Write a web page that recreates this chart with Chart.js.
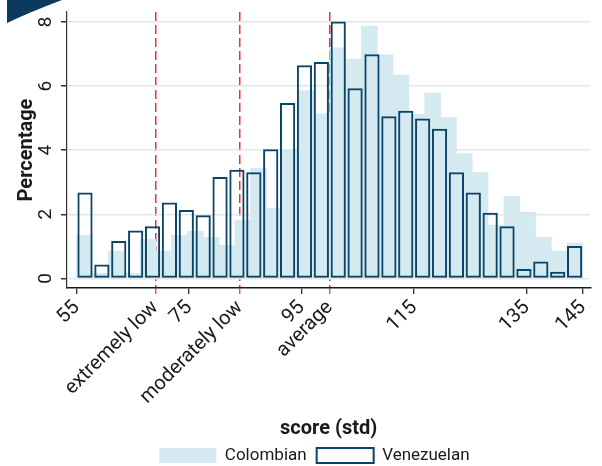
<!DOCTYPE html>
<html>
<head>
<meta charset="utf-8">
<script src="https://cdn.jsdelivr.net/npm/chart.js"></script>
<style>
  html, body { margin: 0; padding: 0; background: #fff; }
  #wrap { width: 602px; height: 466px; position: relative; }
</style>
</head>
<body>
<div id="wrap"><canvas id="chartScores"></canvas></div>
<script>
// Histogram range: both groups binned from 55 to 145
const binStart = 55;
const binEnd = 145;

// Percentage per bin (Venezuelan: 30 bins, Colombian: 32 bins)
const venezuelanPct = [2.68, 0.43, 1.17, 1.49, 1.63, 2.37, 2.13, 1.97, 3.16, 3.39,
    3.31, 4.03, 5.47, 6.65, 6.75, 8.01, 5.93, 6.99, 5.06, 5.23,
    4.99, 4.67, 3.31, 2.68, 2.05, 1.63, 0.29, 0.53, 0.21, 1.01];
const colombianPct = [1.34, 0.16, 0.85, 0.16, 1.22, 0.85, 1.34, 1.47, 1.28, 1.03,
    1.82, 3.43, 2.18, 4.02, 5.86, 5.13, 7.19, 6.84, 7.87, 6.97,
    6.34, 5.12, 5.79, 5.02, 3.89, 3.30, 1.66, 2.56, 2.07, 1.28, 0.85, 1.10];

// Cut-off lines and their axis labels
const cutoffs = [69, 84, 100];
const cutoffLabels = ['extremely low', 'moderately low', 'average'];

const xTicks = [55, 75, 95, 115, 135, 145];
const yTicks = [0, 2, 4, 6, 8];

const navy = '#0a4468';
const lightBlue = '#d4e9f0';
const cutRed = '#e5343a';
const font = 'Roboto, "DejaVu Sans", sans-serif';

// turn a list of bin values into {x: bin centre, y: value}
function toBins(values) {
    const w = (binEnd - binStart) / values.length;
    return values.map((v, i) => ({ x: binStart + w * (i + 0.5), y: v }));
}

// dark corner decoration in the top-left
const cornerPlugin = {
    id: 'corner',
    beforeDraw(chart) {
        const c = chart.ctx;
        c.save();
        c.fillStyle = '#0b3a5c';
        c.beginPath();
        c.moveTo(7, 0);
        c.lineTo(7, 23);
        c.quadraticCurveTo(30, 12, 62, 0);
        c.closePath();
        c.fill();
        c.restore();
    }
};

const allXTicks = xTicks.concat(cutoffs).sort((a, b) => a - b);

new Chart(document.getElementById('chartScores'), {
    type: 'bar',
    data: {
        datasets: [{
            label: 'Colombian',
            data: toBins(colombianPct),
            xAxisID: 'xCol',
            backgroundColor: lightBlue,
            borderWidth: 0,
            grouped: false,
            barPercentage: 1,
            categoryPercentage: 1,
            order: 2
        }, {
            label: 'Venezuelan',
            data: toBins(venezuelanPct),
            xAxisID: 'x',
            backgroundColor: 'rgba(255,255,255,0)',
            borderColor: navy,
            borderWidth: 2,
            borderSkipped: false,
            grouped: false,
            barPercentage: 0.9,
            categoryPercentage: 1,
            order: 1
        }]
    },
    options: {
        responsive: true,
        maintainAspectRatio: false,
        animation: false,
        layout: { padding: { left: 28, right: 1, top: 12, bottom: -8 } },
        plugins: {
            tooltip: { enabled: false },
            legend: {
                position: 'bottom',
                labels: {
                    boxWidth: 57,
                    boxHeight: 15,
                    padding: 10,
                    color: '#1a1a1a',
                    font: { family: font, size: 17 },
                    sort: (a, b) => a.datasetIndex - b.datasetIndex
                }
            }
        },
        scales: {
            x: {
                type: 'linear',
                position: 'bottom',
                min: 53.3,
                max: 146.3,
                offset: false,
                z: 1,
                afterBuildTicks: s => { s.ticks = allXTicks.map(v => ({ value: v })); },
                afterFit: s => { s.height = 149; },
                ticks: {
                    minRotation: 45,
                    maxRotation: 45,
                    padding: 2,
                    color: '#1a1a1a',
                    font: { family: font, size: 20 },
                    callback: v => cutoffs.includes(v) ? cutoffLabels[cutoffs.indexOf(v)] : String(v)
                },
                grid: {
                    offset: false,
                    color: c => (c.tick && cutoffs.includes(c.tick.value)) ? cutRed : 'rgba(0,0,0,0)',
                    lineWidth: 1.5,
                    tickColor: c => (c.tick && cutoffs.includes(c.tick.value)) ? cutRed : '#1a1a1a',
                    tickBorderDash: [1, 0],
                    tickLength: 6,
                    tickWidth: 1.2
                },
                border: { color: '#1a1a1a', width: 1.5, dash: [9, 4] },
                title: {
                    display: true,
                    text: 'score (std)',
                    color: '#1a1a1a',
                    font: { family: font, size: 20, weight: 'bold' },
                    padding: { top: 4, bottom: -4 }
                }
            },
            xCol: {
                type: 'linear',
                display: false,
                offset: false,
                min: 53.3,
                max: 146.3,
                afterBuildTicks: s => { s.ticks = [{ value: binStart }]; }
            },
            y: {
                min: -0.3,
                max: 8.31,
                afterBuildTicks: s => { s.ticks = yTicks.map(v => ({ value: v })); },
                afterFit: s => { s.width = 39; s.paddingTop = 0; s.paddingBottom = 0; },
                ticks: {
                    minRotation: 90,
                    maxRotation: 90,
                    crossAlign: 'center',
                    padding: 9,
                    color: '#1a1a1a',
                    font: { family: font, size: 19 }
                },
                grid: {
                    color: '#e6e6e6',
                    lineWidth: 1.5,
                    tickColor: '#333',
                    tickLength: 6
                },
                border: { color: '#333', width: 1.2 },
                title: {
                    display: true,
                    text: 'Percentage',
                    color: '#1a1a1a',
                    font: { family: font, size: 20, weight: 'bold' },
                    padding: { top: -13, bottom: 0 }
                }
            }
        }
    },
    plugins: [cornerPlugin]
});
</script>
</body>
</html>
